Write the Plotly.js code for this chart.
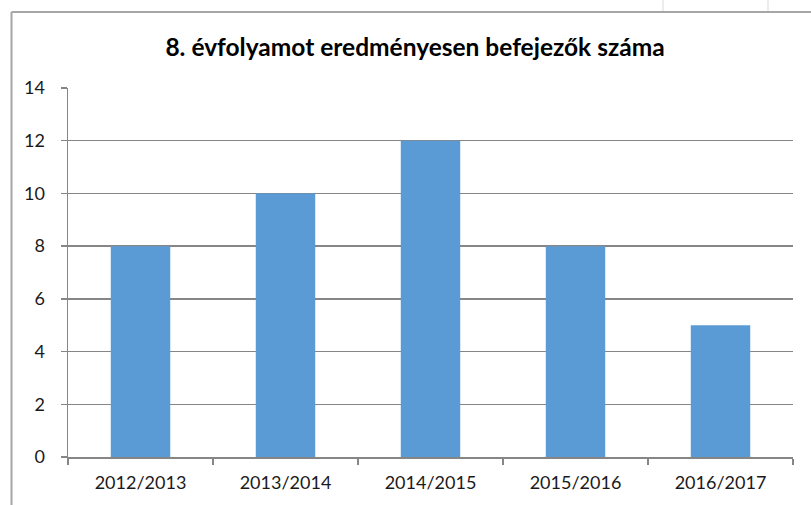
<!DOCTYPE html>
<html>
<head>
<meta charset="utf-8">
<script src="https://cdn.plot.ly/plotly-3.0.1.min.js"></script>
<style>html,body{margin:0;padding:0;background:#fff;}#chart{width:811px;height:505px;}</style>
</head>
<body>
<div id="chart"></div>
<script>
const categories = ["2012/2013", "2013/2014", "2014/2015", "2015/2016", "2016/2017"];
const values = [8, 10, 12, 8, 5];
const yTicks = [0, 2, 4, 6, 8, 10, 12, 14];
const titleText = "8. évfolyamot eredményesen befejezők száma";

const L = 68, R = 793, T = 88, B = 457;
const px2x = p => (p - L) / (R - L);
const py2y = p => (B - p) / (B - T);

const frameColor = "#a6a6a6";
const shapes = [
  {type: "line", xref: "paper", yref: "paper", x0: px2x(11.5), x1: px2x(811), y0: py2y(12), y1: py2y(12), line: {color: frameColor, width: 2}},
  {type: "line", xref: "paper", yref: "paper", x0: px2x(11.5), x1: px2x(11.5), y0: py2y(12), y1: py2y(505), line: {color: frameColor, width: 2}},
  {type: "line", xref: "paper", yref: "paper", x0: px2x(663), x1: px2x(663), y0: py2y(0), y1: py2y(11), line: {color: "#d9d9d9", width: 1}},
  {type: "line", xref: "paper", yref: "paper", x0: px2x(768), x1: px2x(768), y0: py2y(0), y1: py2y(11), line: {color: "#d9d9d9", width: 1}}
];

const data = [{
  type: "bar",
  x: categories,
  y: values,
  marker: {color: "#5b9bd5"},
  hoverinfo: "x+y"
}];

const layout = {
  width: 811, height: 505,
  margin: {l: L, r: 811 - R, t: T, b: 505 - B, pad: 0},
  paper_bgcolor: "#fff", plot_bgcolor: "#fff",
  font: {family: "Lato, 'Open Sans', sans-serif", size: 18, color: "#1a1a1a"},
  title: {text: "<b>" + titleText + "</b>", font: {size: 24.5, color: "#000", family: "Lato, sans-serif"}, x: 415 / 811, xref: "container", xanchor: "center", y: 1 - 47 / 505, yref: "container", yanchor: "middle"},
  bargap: 0.59,
  showlegend: false,
  xaxis: {
    type: "category",
    showline: true, linecolor: "#868686", linewidth: 1.5,
    ticks: "outside", tickson: "boundaries", ticklen: 6, tickcolor: "#868686", tickwidth: 1.5,
    showgrid: false,
    ticklabelstandoff: 9,
    tickfont: {size: 18, color: "#1a1a1a"}
  },
  yaxis: {
    range: [0, 14],
    tickvals: yTicks,
    ticktext: yTicks.map(String),
    showline: true, linecolor: "#868686", linewidth: 1.5,
    ticks: "outside", ticklen: 6, tickcolor: "#868686", tickwidth: 1.5,
    showgrid: true, gridcolor: "#868686", gridwidth: 1.5,
    zeroline: false,
    ticklabelstandoff: 12,
    tickfont: {size: 18, color: "#1a1a1a"}
  },
  shapes: shapes
};

Plotly.newPlot("chart", data, layout, {displayModeBar: false, staticPlot: true});
</script>
</body>
</html>
